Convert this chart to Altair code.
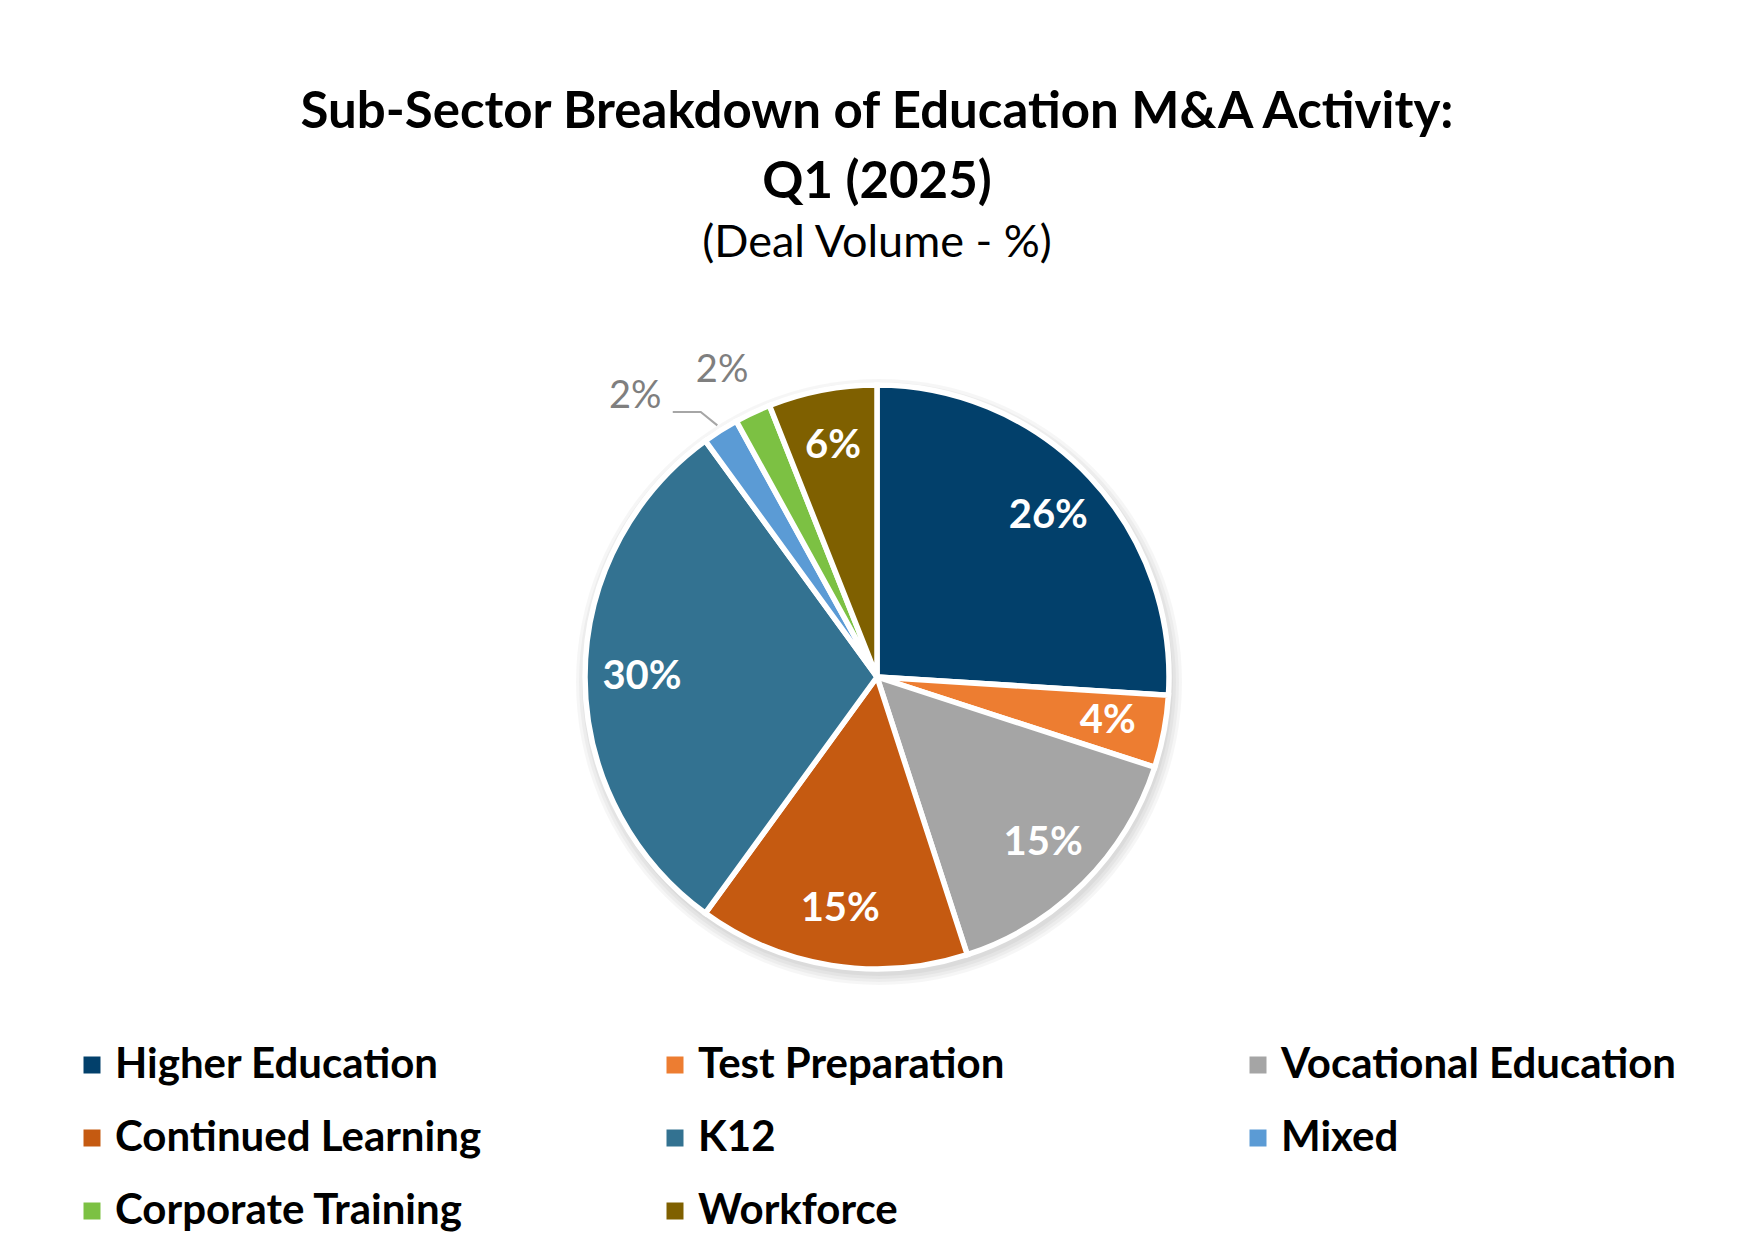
import altair as alt
import pandas as pd

categories = ["Higher Education", "Test Preparation", "Vocational Education",
              "Continued Learning", "K12", "Mixed", "Corporate Training", "Workforce"]
values = [26, 4, 15, 15, 30, 2, 2, 6]
colors = ["#02406B", "#ED7D31", "#A5A5A5", "#C55A11", "#337291", "#5B9BD5", "#7CC143", "#7F6000"]

df = pd.DataFrame({"category": categories, "value": values,
                   "order": list(range(len(categories)))})

W, H = 1726, 760
R = 292
cx, cy = W / 2, H / 2

theta = alt.Theta("value:Q", stack=True)
order = alt.Order("order:Q")
base = alt.Chart(df).encode(theta=theta, order=order)

# soft shadow behind the pie
shadows = [
    alt.Chart(df).transform_aggregate(total="sum(value)")
    .mark_arc(outerRadius=R + k, fill="#000000", opacity=0.035, yOffset=5, xOffset=2)
    .encode(theta=alt.Theta("total:Q", stack=True))
    for k in (2, 5, 8, 11)
]

pie = base.mark_arc(outerRadius=R, stroke="white", strokeWidth=5.5).encode(
    color=alt.Color(
        "category:N",
        sort=categories,
        scale=alt.Scale(domain=categories, range=colors),
        legend=alt.Legend(
            title=None, orient="none", legendX=57, legendY=747,
            direction="horizontal", columns=3, gridAlign="all",
            columnPadding=143, rowPadding=31, padding=0,
            symbolType="square", symbolSize=289, symbolStrokeWidth=0,
            labelFont="Lato", labelFontSize=42, labelFontWeight="bold",
            labelColor="black", labelOffset=2, labelLimit=1000,
        ),
    )
)

inner = base.transform_calculate(
    lab="datum.value >= 4 ? datum.value + '%' : ''"
).mark_text(radius=235, font="Lato", fontSize=40, fontWeight="bold", color="white").encode(
    text="lab:N", detail="category:N"
)

corp = base.transform_calculate(
    lab="datum.category == 'Corporate Training' ? datum.value + '%' : ''"
).mark_text(radius=345, font="Lato", fontSize=38, color="#7F7F7F", dx=-8, dy=6).encode(
    text="lab:N", detail="category:N"
)

mixed = base.transform_calculate(
    lab="datum.category == 'Mixed' ? datum.value + '%' : ''"
).mark_text(radius=345, font="Lato", fontSize=38, color="#7F7F7F", dx=-57, dy=11).encode(
    text="lab:N", detail="category:N"
)

lead = (
    alt.Chart(df)
    .transform_window(cum="sum(value)", sort=[alt.SortField("order")], frame=[None, 0])
    .transform_joinaggregate(total="sum(value)")
    .transform_filter("datum.category == 'Mixed'")
    .transform_calculate(mid="2*PI*(datum.cum - datum.value/2)/datum.total", pts="[0,1,2]")
    .transform_flatten(["pts"])
    .transform_calculate(
        rr="datum.pts == 0 ? 298 : 314",
        sh="datum.pts == 0 ? 0 : (datum.pts == 1 ? 8 : 36)",
        lx=f"{cx} + datum.rr*sin(datum.mid) - datum.sh",
        ly=f"{cy} - datum.rr*cos(datum.mid)",
    )
    .mark_line(color="#A6A6A6", strokeWidth=2)
    .encode(
        x=alt.X("lx:Q", scale=None, axis=None),
        y=alt.Y("ly:Q", scale=None, axis=None),
        order="pts:Q",
    )
)

chart = (
    alt.layer(*shadows, pie, inner, corp, mixed, lead)
    .properties(
        width=W, height=H,
        padding={"top": 79, "left": 6, "right": 0, "bottom": 0},
        background="white",
        title=alt.TitleParams(
            text=["Sub-Sector Breakdown of Education M&A Activity:", "Q1 (2025)"],
            subtitle="(Deal Volume - %)",
            font="Lato", fontSize=51, fontWeight="bold", color="black", lineHeight=70,
            subtitleFont="Lato", subtitleFontSize=45, subtitleFontWeight="normal",
            subtitleColor="black", subtitlePadding=12,
            anchor="middle", offset=30,
        ),
    )
    .configure_view(stroke=None)
)

chart.save("out.html", embed_options={"renderer": "svg", "actions": False})
